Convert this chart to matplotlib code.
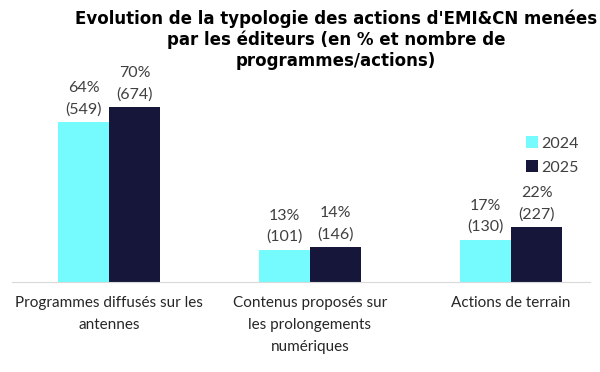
import matplotlib.pyplot as plt
import numpy as np

categories = ["Programmes diffusés sur les\nantennes",
              "Contenus proposés sur\nles prolongements\nnumériques",
              "Actions de terrain"]
years = ["2024", "2025"]
pct_2024 = [64, 13, 17]
pct_2025 = [70, 14, 22]
n_2024 = [549, 101, 130]
n_2025 = [674, 146, 227]

c2024 = '#75FBFD'
c2025 = '#15163A'
txt = '#404040'

plt.rcParams['font.family'] = ['Lato', 'DejaVu Sans']

fig = plt.figure(figsize=(6, 3.72), dpi=100)
ax = fig.add_axes([12 / 600, 1 - 282 / 372, 578 / 600, 200 / 372])

x = np.arange(len(categories))
w = 0.254
b1 = ax.bar(x - w / 2, pct_2024, w, color=c2024, label=years[0])
b2 = ax.bar(x + w / 2, pct_2025, w, color=c2025, label=years[1])

for bars, pcts, ns in [(b1, pct_2024, n_2024), (b2, pct_2025, n_2025)]:
    for b, p, n in zip(bars, pcts, ns):
        ax.annotate(f"{p}%\n({n})", (b.get_x() + b.get_width() / 2, b.get_height()),
                    xytext=(0, 4), textcoords='offset points', ha='center', va='bottom',
                    fontsize=11.5, color=txt, linespacing=1.6)

ax.set_xlim((12 - 109) / 201, (590 - 109) / 201)
ax.set_ylim(0, 80)
ax.set_yticks([])
ax.set_xticks(x)
ax.set_xticklabels(categories, fontsize=11, color='#262626', linespacing=1.75)
ax.tick_params(axis='x', length=0, pad=10)
for s in ['top', 'right', 'left']:
    ax.spines[s].set_visible(False)
ax.spines['bottom'].set_color('#D9D9D9')

ax.legend(loc='upper left', bbox_to_anchor=(500 / 578, 0.8), frameon=False,
          fontsize=11.5, handlelength=0.75, handleheight=0.75, handletextpad=0.2,
          labelspacing=0.6, labelcolor=txt)

fig.text(336 / 600, 1 - 9 / 372,
         "Evolution de la typologie des actions d'EMI&CN menées\npar les éditeurs (en % et nombre de\nprogrammes/actions)",
         ha='center', va='top', fontsize=12, fontweight='bold', family='DejaVu Sans',
         color='black', linespacing=1.2)

fig.savefig('out.png', dpi=100)
